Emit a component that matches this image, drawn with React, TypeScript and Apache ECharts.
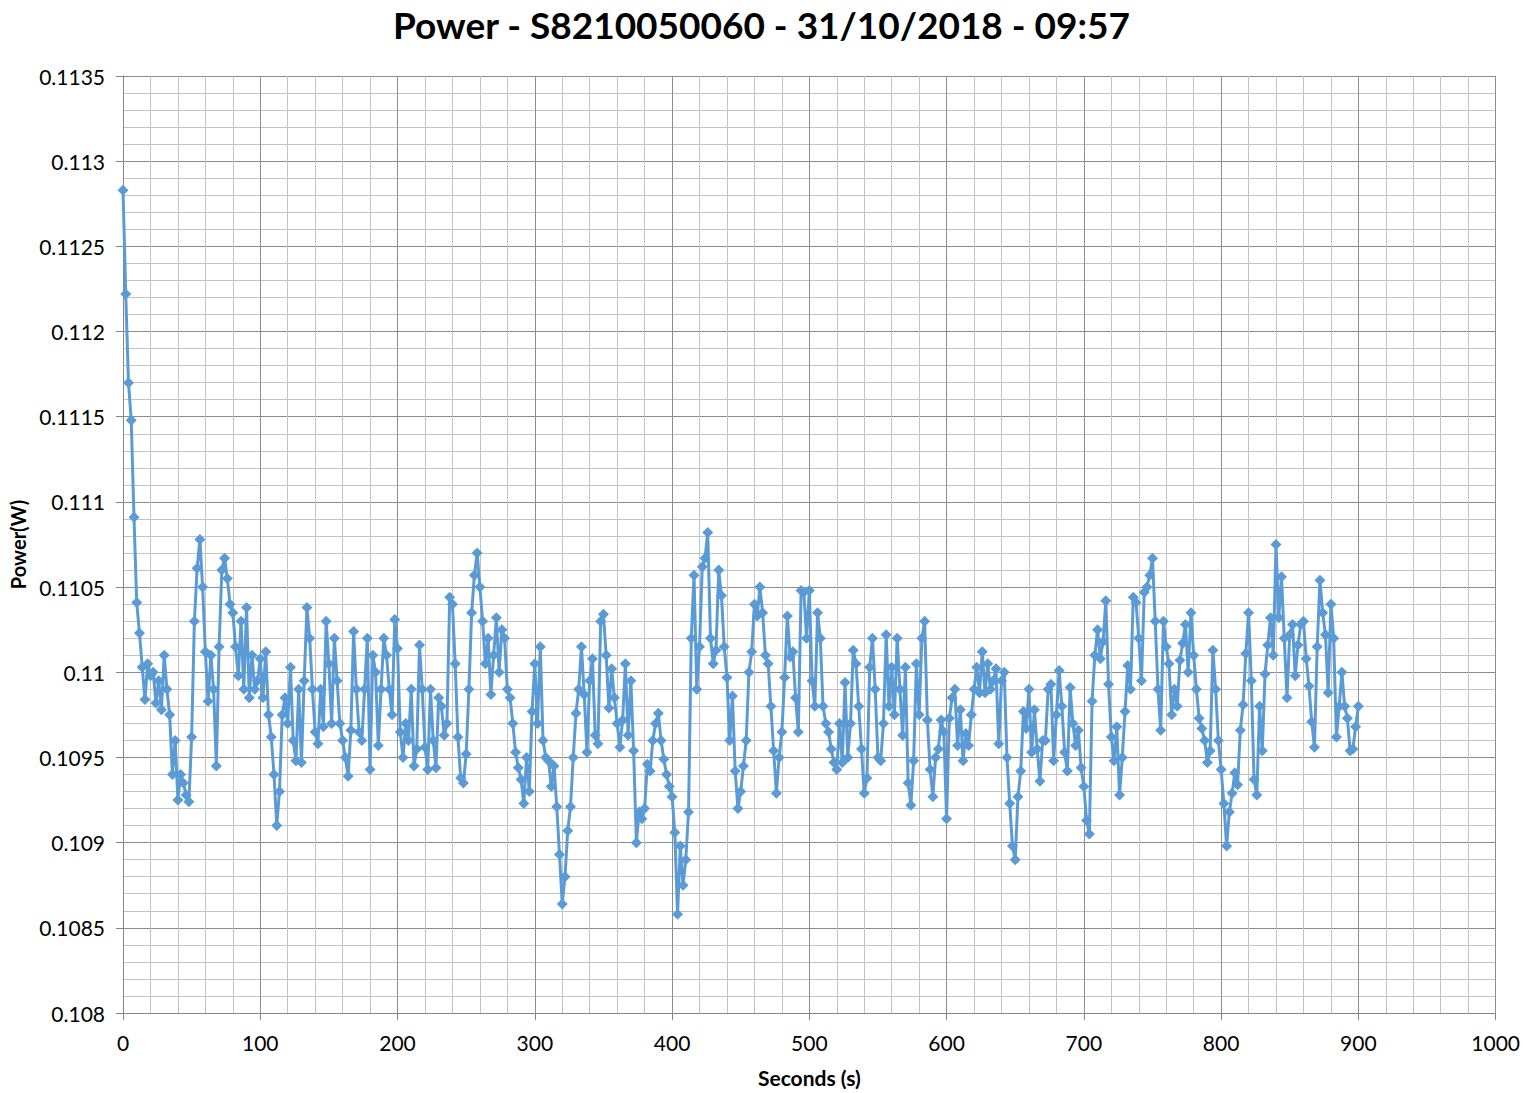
import React, { useEffect, useRef } from "react";
import * as echarts from "echarts";

const TITLE = "Power - S8210050060 - 31/10/2018 - 09:57";
const X_NAME = "Seconds (s)";
const Y_NAME = "Power(W)";
const STEP_SECONDS = 2;

// Power (W), one reading every 2 s, from 0 s to 900 s (each row = 20 s)
const power: number[] = [
  0.11283, 0.11222, 0.1117, 0.11148, 0.11091, 0.11041, 0.11023, 0.11003, 0.10984, 0.11005,
  0.10998, 0.11, 0.10982, 0.10995, 0.10978, 0.1101, 0.1099, 0.10975, 0.1094, 0.1096,
  0.10925, 0.1094, 0.10935, 0.10928, 0.10924, 0.10962, 0.1103, 0.11061, 0.11078, 0.1105,
  0.11012, 0.10983, 0.1101, 0.1099, 0.10945, 0.11015, 0.1106, 0.11067, 0.11055, 0.1104,
  0.11035, 0.11015, 0.10998, 0.1103, 0.1099, 0.11038, 0.10985, 0.1101, 0.1099, 0.10995,
  0.11008, 0.10985, 0.11012, 0.10975, 0.10962, 0.1094, 0.1091, 0.1093, 0.10975, 0.10985,
  0.1097, 0.11003, 0.1096, 0.10948, 0.1099, 0.10947, 0.10995, 0.11038, 0.1102, 0.1099,
  0.10965, 0.10958, 0.1099, 0.10968, 0.1103, 0.11005, 0.1097, 0.1102, 0.10995, 0.1097,
  0.1096, 0.1095, 0.10939, 0.10966, 0.11024, 0.1099, 0.10965, 0.1096, 0.1099, 0.1102,
  0.10943, 0.1101, 0.11, 0.10957, 0.1099, 0.1102, 0.1101, 0.1099, 0.10975, 0.11031,
  0.11014, 0.10965, 0.1095, 0.1097, 0.1096, 0.1099, 0.10945, 0.10955, 0.11016, 0.1099,
  0.10956, 0.10943, 0.1099, 0.1096, 0.10944, 0.10985, 0.1098, 0.10963, 0.1097, 0.11044,
  0.1104, 0.11005, 0.10962, 0.10938, 0.10935, 0.10952, 0.1099, 0.11035, 0.11057, 0.1107,
  0.1105, 0.1103, 0.11005, 0.1102, 0.10987, 0.1101, 0.11032, 0.11, 0.11025, 0.1102,
  0.1099, 0.10985, 0.1097, 0.10953, 0.10944, 0.10937, 0.10923, 0.1095, 0.1093, 0.10977,
  0.11005, 0.1097, 0.11015, 0.1096, 0.1095, 0.10948, 0.10933, 0.10945, 0.10921, 0.10893,
  0.10864, 0.1088, 0.10907, 0.10921, 0.1095, 0.10976, 0.1099, 0.11015, 0.10987, 0.10953,
  0.10995, 0.11008, 0.10963, 0.10958, 0.1103, 0.11034, 0.1101, 0.10979, 0.11002, 0.10985,
  0.1097, 0.10956, 0.10972, 0.11005, 0.10963, 0.10995, 0.10954, 0.109, 0.10918, 0.10914,
  0.1092, 0.10946, 0.10942, 0.1096, 0.1097, 0.10976, 0.1096, 0.10949, 0.1094, 0.10933,
  0.10927, 0.10906, 0.10858, 0.10898, 0.10875, 0.1089, 0.10918, 0.1102, 0.11057, 0.1099,
  0.11015, 0.11062, 0.11067, 0.11082, 0.1102, 0.11005, 0.11013, 0.1106, 0.11045, 0.11015,
  0.10997, 0.1096, 0.10986, 0.10942, 0.1092, 0.1093, 0.10945, 0.1096, 0.11, 0.11012,
  0.1104, 0.11033, 0.1105, 0.11035, 0.1101, 0.11005, 0.1098, 0.10954, 0.10929, 0.1095,
  0.10965, 0.10997, 0.11033, 0.11009, 0.11012, 0.10985, 0.10965, 0.11048, 0.11047, 0.1102,
  0.11048, 0.10995, 0.1098, 0.11035, 0.1102, 0.1098, 0.1097, 0.10965, 0.10955, 0.10947,
  0.10943, 0.1097, 0.10947, 0.10994, 0.1095, 0.1097, 0.11013, 0.11005, 0.1098, 0.10955,
  0.10929, 0.10938, 0.11003, 0.1102, 0.1099, 0.1095, 0.10948, 0.1097, 0.11022, 0.1098,
  0.11003, 0.10975, 0.1102, 0.1099, 0.10963, 0.11003, 0.10935, 0.10922, 0.10948, 0.11005,
  0.10975, 0.1102, 0.1103, 0.10972, 0.10943, 0.10927, 0.1095, 0.10955, 0.10972, 0.10965,
  0.10914, 0.10973, 0.10985, 0.1099, 0.10957, 0.10978, 0.10948, 0.10964, 0.10957, 0.10975,
  0.1099, 0.11003, 0.10988, 0.11012, 0.10988, 0.11005, 0.1099, 0.10995, 0.11002, 0.10958,
  0.10995, 0.11, 0.1095, 0.10923, 0.10898, 0.1089, 0.10927, 0.10942, 0.10977, 0.10967,
  0.1099, 0.10953, 0.10978, 0.10955, 0.10936, 0.1096, 0.1096, 0.1099, 0.10993, 0.10948,
  0.10975, 0.11001, 0.1098, 0.10953, 0.10942, 0.10991, 0.1097, 0.10957, 0.10966, 0.10944,
  0.10933, 0.10913, 0.10905, 0.10983, 0.1101, 0.11025, 0.11008, 0.11018, 0.11042, 0.10993,
  0.10962, 0.10948, 0.10968, 0.10928, 0.1095, 0.10977, 0.11004, 0.1099, 0.11044, 0.11041,
  0.1102, 0.10995, 0.11047, 0.1105, 0.11057, 0.11067, 0.1103, 0.1099, 0.10966, 0.1103,
  0.11015, 0.11005, 0.10975, 0.1099, 0.1098, 0.11007, 0.11017, 0.11028, 0.11, 0.11035,
  0.1101, 0.1099, 0.10973, 0.10967, 0.1096, 0.10947, 0.10954, 0.11013, 0.1099, 0.1096,
  0.10943, 0.10923, 0.10898, 0.10918, 0.10929, 0.10941, 0.10934, 0.10966, 0.10981, 0.11011,
  0.11035, 0.10995, 0.10937, 0.10928, 0.1098, 0.10954, 0.10999, 0.11016, 0.11032, 0.1101,
  0.11075, 0.11032, 0.11056, 0.1102, 0.10985, 0.11022, 0.11028, 0.10998, 0.11016, 0.11028,
  0.1103, 0.11008, 0.10992, 0.10971, 0.10956, 0.11015, 0.11054, 0.11035, 0.11022, 0.10988,
  0.1104, 0.1102, 0.10962, 0.1098, 0.11, 0.1098, 0.10973, 0.10954, 0.10955, 0.10968,
  0.1098,
];

const X_MIN = 0;
const X_MAX = 1000;
const X_INTERVAL = 100;
const Y_MIN = 0.108;
const Y_MAX = 0.1135;
const Y_INTERVAL = 0.0005;

const FONT = "Lato";

export default function App() {
  const ref = useRef<HTMLDivElement>(null);

  useEffect(() => {
    if (!ref.current) return;
    const chart = echarts.init(ref.current, undefined, { renderer: "svg" });
    const data = power.map((v, i) => [i * STEP_SECONDS, v]);
    chart.setOption({
      animation: false,
      backgroundColor: "#ffffff",
      title: {
        text: TITLE,
        left: "center",
        top: 1,
        textStyle: { fontFamily: FONT, fontSize: 37, fontWeight: "bold", color: "#000" },
      },
      grid: { left: 120, right: 27, top: 76, bottom: 80, containLabel: false },
      xAxis: {
        type: "value",
        min: X_MIN,
        max: X_MAX,
        interval: X_INTERVAL,
        name: X_NAME,
        nameLocation: "middle",
        nameGap: 54,
        nameTextStyle: { fontFamily: FONT, fontSize: 21, fontWeight: "bold", color: "#000" },
        axisLine: { show: true, lineStyle: { color: "#868686", width: 1 } },
        axisTick: { show: true, inside: false, length: 7, lineStyle: { color: "#868686" } },
        axisLabel: {
          fontFamily: FONT,
          fontSize: 21,
          color: "#000",
          margin: 19,
          formatter: (v: number) => String(v),
        },
        splitLine: { show: true, lineStyle: { color: "#8c8c8c", width: 1 } },
        minorTick: { show: false, splitNumber: 5 },
        minorSplitLine: { show: true, lineStyle: { color: "#c3c3c3", width: 1 } },
      },
      yAxis: {
        type: "value",
        min: Y_MIN,
        max: Y_MAX,
        interval: Y_INTERVAL,
        name: Y_NAME,
        nameLocation: "middle",
        nameGap: 95,
        nameTextStyle: { fontFamily: FONT, fontSize: 20, fontWeight: "bold", color: "#000" },
        axisLine: { show: true, lineStyle: { color: "#868686", width: 1 } },
        axisTick: { show: true, inside: false, length: 7, lineStyle: { color: "#868686" } },
        axisLabel: {
          fontFamily: FONT,
          fontSize: 21,
          color: "#000",
          margin: 18,
          formatter: (v: number) => String(parseFloat(v.toFixed(4))),
        },
        splitLine: { show: true, lineStyle: { color: "#8c8c8c", width: 1 } },
        minorTick: { show: false, splitNumber: 5 },
        minorSplitLine: { show: true, lineStyle: { color: "#c3c3c3", width: 1 } },
      },
      series: [
        {
          type: "line",
          data,
          symbol: "diamond",
          symbolSize: 11,
          showSymbol: true,
          lineStyle: { color: "#5b9bd5", width: 3 },
          itemStyle: { color: "#5b9bd5" },
          z: 3,
        },
      ],
    });
    return () => chart.dispose();
  }, []);

  return (
    <div
      ref={ref}
      style={{ position: "absolute", left: 0, top: 0, width: 1523, height: 1093, background: "#fff" }}
    />
  );
}
